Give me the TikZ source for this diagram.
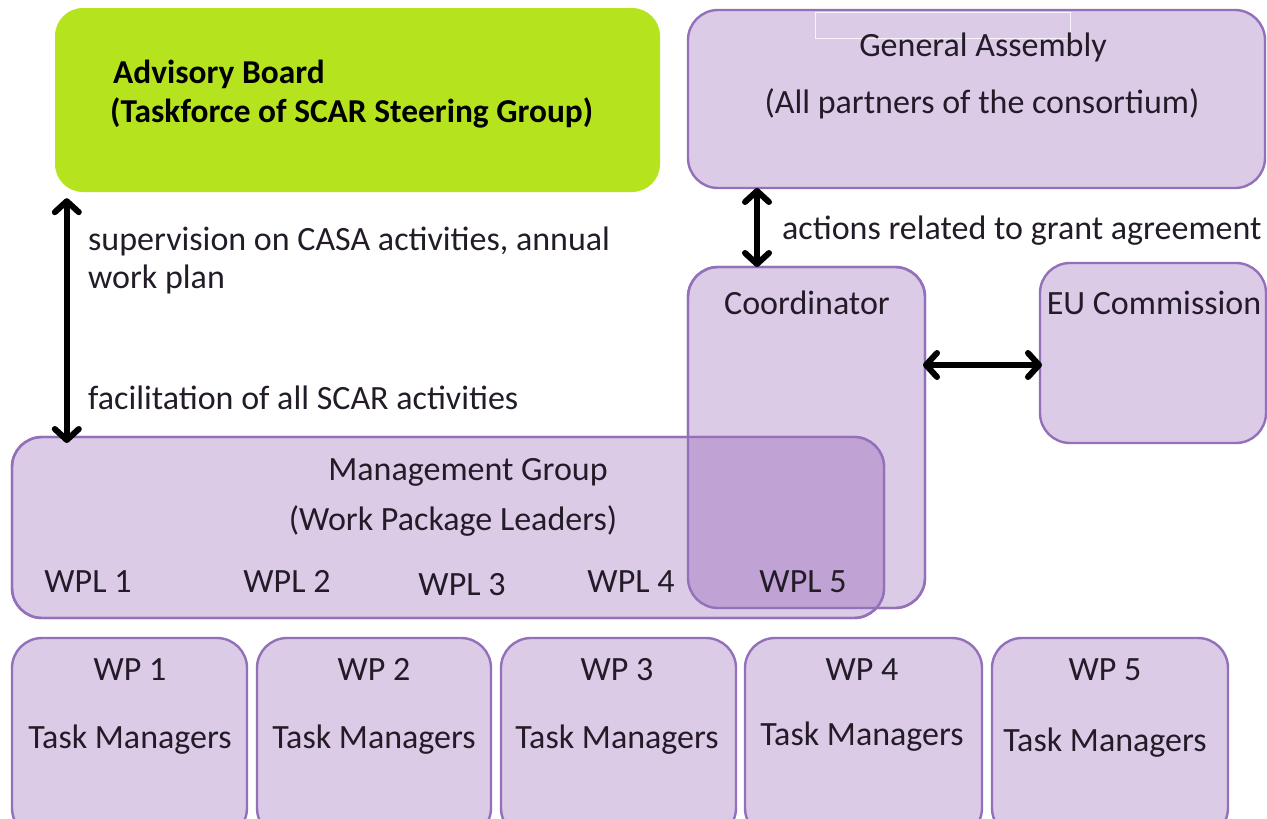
\documentclass[tikz,border=0pt]{standalone}
\usepackage{fontspec}
\setmainfont{Carlito}
\usetikzlibrary{arrows.meta,calc}
\definecolor{lav}{RGB}{220,203,230}
\definecolor{lavdark}{RGB}{192,163,212}
\definecolor{lavline}{RGB}{146,112,186}
\definecolor{lime}{RGB}{181,228,31}
\definecolor{txt}{RGB}{35,28,40}
\tikzset{
  box/.style={draw=lavline, line width=2.4pt, fill=lav, rounded corners=30pt, inner sep=0pt, outer sep=0pt},
  limebox/.style={fill=lime, rounded corners=28pt, inner sep=0pt},
  lbl/.style={inner sep=0pt, text height=0.64em, text depth=0pt, text=txt, yshift=-7pt, font=\fontsize{34}{40}\selectfont},
  blbl/.style={lbl, font=\fontsize{33.4}{40}\selectfont\bfseries, text=black},
  barb/.tip={Straight Barb[length=11pt,width=24pt,line width=6pt,round]},
  dbl/.style={line width=6pt, barb-barb, black}
}
\begin{document}
\begin{tikzpicture}[x=1pt,y=-1pt]
\useasboundingbox (0,0) rectangle (1267,819);
% boxes
\node[limebox, minimum width=605pt, minimum height=184pt] (adv) at (357.5,100) {};
\node[box, minimum width=577pt, minimum height=178pt] (ga) at (976.5,99) {};
\draw[white, line width=0.6pt, opacity=0.8] (815,12) -- (1070,12) (815,12) -- (815,38) -- (1070,38) -- (1070,12);
\node[box, minimum width=237pt, minimum height=341pt] (coord) at (806.5,437.5) {};
\node[box, minimum width=226pt, minimum height=180pt] (eu) at (1153,353) {};
\node[box, minimum width=872pt, minimum height=181pt] (mg) at (448,527.5) {};
\begin{scope}
  \clip[rounded corners=30pt] (coord.south west) rectangle (coord.north east);
  \fill[lavdark, rounded corners=30pt] (mg.south west) rectangle (mg.north east);
\end{scope}
\draw[lavline, line width=2.4pt, rounded corners=30pt] (coord.south west) rectangle (coord.north east);
\draw[lavline, line width=2.4pt, rounded corners=30pt] (mg.south west) rectangle (mg.north east);
% work packages
\foreach \n/\xl/\xr in {1/12/247, 2/257/491, 3/501/736, 4/745/982, 5/992/1228}{
  \node[box, minimum width={\xr-\xl}, minimum height=200pt] (wp\n) at ({(\xl+\xr)/2},738) {};
}
% arrows
\draw[dbl] ([xshift=12pt,yshift=-6pt]adv.south west) -- ([xshift=12pt,yshift=-6pt]adv.south west |- mg.north);
\draw[dbl] ([xshift=69pt]ga.south west) -- ([xshift=69pt]coord.north west);
\draw[dbl] ([yshift=-12pt,xshift=-2pt]eu.west -| coord.east) -- ([yshift=-12pt,xshift=2pt]eu.west);
% texts
\node[blbl, anchor=west] (t1) at (113,73) {Advisory Board};
\node[blbl, anchor=west] (t2) at (110,112) {(Taskforce of SCAR Steering Group)};
\node[lbl] (t3) at (983,46) {General Assembly};
\node[lbl] (t4) at (982,103) {(All partners of the consortium)};
\node[lbl, anchor=west] (t5) at (782,229) {actions related to grant agreement};
\node[lbl, anchor=west] (t6) at (88,240) {supervision on CASA activities, annual};
\node[lbl, anchor=west] (t7) at (88,278) {work plan};
\node[lbl, anchor=west] (t8) at (88,399) {facilitation of all SCAR activities};
\node[lbl] (t9) at (807,304) {Coordinator};
\node[lbl] (t10) at (1154,304) {EU Commission};
\node[lbl] (t11) at (468,470) {Management Group};
\node[lbl] (t12) at (453,520) {(Work Package Leaders)};
\node[lbl] (w1) at (88,582) {WPL 1};
\node[lbl] (w2) at (287,582) {WPL 2};
\node[lbl] (w3) at (462,585) {WPL 3};
\node[lbl] (w4) at (631,582) {WPL 4};
\node[lbl] (w5) at (803,582) {WPL 5};
\foreach \n/\x/\y in {1/130/738, 2/374/738, 3/617/738, 4/862/735, 5/1105/741}{
  \node[lbl] (p\n) at (\x,670) {WP \n};
  \node[lbl] (m\n) at (\x,\y) {Task Managers};
}
\end{tikzpicture}
\end{document}
